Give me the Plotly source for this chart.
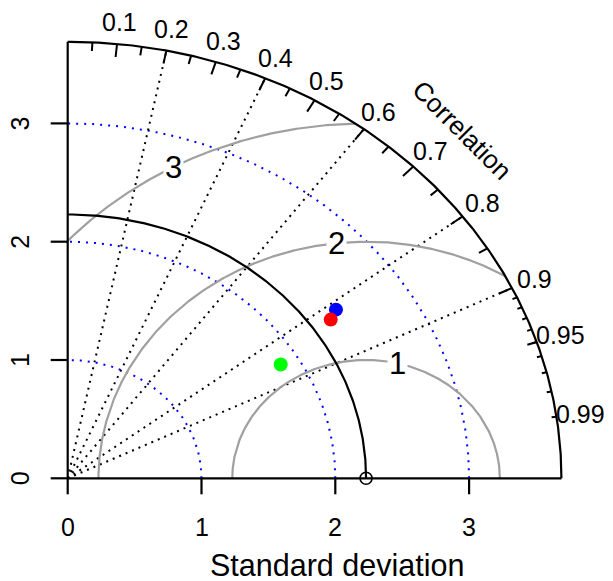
import numpy as np
import plotly.graph_objects as go

# ---------------- data ----------------
ref_sd = 2.23
model_sd = [2.46, 2.38, 1.86]
model_cor = [0.815, 0.826, 0.856]
model_colors = ["#0000ff", "#ff0000", "#00ff00"]

sd_arcs = [1, 2, 3]
rms_levels = [1, 2, 3]
rms_label_angles = [76.2, 96.3, 118.7]  # degrees around the reference point
corr_lines = [0.2, 0.4, 0.6, 0.8, 0.9]
corr_big_ticks = [0.1, 0.2, 0.3, 0.4, 0.5, 0.6, 0.7, 0.8, 0.9]
corr_med_ticks = [0.05, 0.15, 0.25, 0.35, 0.45, 0.55, 0.65, 0.75, 0.85, 0.95]
corr_small_ticks = [0.91, 0.92, 0.93, 0.94, 0.95, 0.96, 0.97, 0.98, 0.99]
corr_labels = ["0.1", "0.2", "0.3", "0.4", "0.5", "0.6", "0.7", "0.8", "0.9", "0.95", "0.99"]
sd_ticks = [0, 1, 2, 3]
sd_tick_labels = ["0", "1", "2", "3"]

maxsd = 1.5 * max(model_sd)

# pixel mapping (origin at 67.7, 478.3; 133.8 px/unit in x, 118.3 px/unit in y)
W, H = 613, 581
ox, oy, sx, sy = 67.7, 478.3, 133.8, 118.3
xr = [-ox / sx, (W - ox) / sx]
yr = [(oy - H) / sy, oy / sy]

FONT = "Liberation Sans, Arial, Helvetica, sans-serif"
fig = go.Figure()


def add_line(x, y, color="black", width=2, dash=None):
    fig.add_trace(go.Scatter(x=x, y=y, mode="lines", hoverinfo="skip", showlegend=False,
                             line=dict(color=color, width=width, dash=dash)))


# sd arcs (blue dotted)
th = np.linspace(0, np.pi / 2, 300)
for r in sd_arcs:
    add_line(r * np.cos(th), r * np.sin(th), color="#0000ff", width=2, dash="2px,6px")

# correlation lines (black dotted)
for c in corr_lines:
    a = np.arccos(c)
    add_line([0, maxsd * np.cos(a)], [0, maxsd * np.sin(a)], color="black", width=2, dash="2px,5px")

# RMS arcs centred on reference
for g in rms_levels:
    t = np.linspace(0, np.pi, 2000)
    gx = ref_sd + g * np.cos(t)
    gy = g * np.sin(t)
    ok = (np.hypot(gx, gy) <= maxsd) & (gx >= 0)
    add_line(np.where(ok, gx, np.nan), np.where(ok, gy, np.nan), color="#a0a0a0", width=2.2)

# reference sd arc
add_line(ref_sd * np.cos(th), ref_sd * np.sin(th), color="black", width=2.2)

# outer arc
add_line(maxsd * np.cos(th), maxsd * np.sin(th), color="black", width=2.2)

# axes lines
add_line([0, maxsd], [0, 0], color="black", width=2.2)
add_line([0, 0], [0, maxsd], color="black", width=2.2)

# axis ticks
tlx = 16 / sy
tly = 17 / sx
for v in sd_ticks:
    add_line([v, v], [0, -tlx], color="black", width=2.2)
    add_line([0, -tly], [v, v], color="black", width=2.2)


# correlation tick marks
def ticks(vals, inner):
    xs, ys = [], []
    for c in vals:
        a = np.arccos(c)
        xs += [maxsd * np.cos(a), inner * maxsd * np.cos(a), None]
        ys += [maxsd * np.sin(a), inner * maxsd * np.sin(a), None]
    add_line(xs, ys, color="black", width=2)


ticks(corr_big_ticks, 0.97)
ticks(corr_med_ticks, 0.98)
ticks(corr_small_ticks, 0.99)

# model points
for s, c, col in zip(model_sd, model_cor, model_colors):
    a = np.arccos(c)
    fig.add_trace(go.Scatter(x=[s * np.cos(a)], y=[s * np.sin(a)], mode="markers",
                             hoverinfo="skip", showlegend=False,
                             marker=dict(color=col, size=14, line=dict(width=0))))

# reference point
fig.add_trace(go.Scatter(x=[ref_sd], y=[0], mode="markers", hoverinfo="skip", showlegend=False,
                         cliponaxis=False,
                         marker=dict(symbol="circle-open", color="black", size=12, line=dict(width=1.6))))

ann = []
# correlation labels
lab_vals = [float(v) for v in corr_labels]
for v, t in zip(lab_vals, corr_labels):
    a = np.arccos(v)
    ann.append(dict(x=1.05 * maxsd * np.cos(a), y=1.05 * maxsd * np.sin(a), text=t,
                    font=dict(size=25, color="black", family=FONT)))
ann.append(dict(x=1.13 * maxsd * np.cos(np.pi / 4), y=1.13 * maxsd * np.sin(np.pi / 4),
                text="Correlation", textangle=45, font=dict(size=26, color="black", family=FONT)))
# rms labels
for g, ang in zip(rms_levels, rms_label_angles):
    a = np.radians(ang)
    ann.append(dict(x=ref_sd + g * np.cos(a), y=g * np.sin(a), text=str(g), bgcolor="white",
                    borderpad=1, font=dict(size=31, color="black", family=FONT)))
# axis tick labels
for v, t in zip(sd_ticks, sd_tick_labels):
    ann.append(dict(x=v, y=(oy - 527) / sy, text=t, font=dict(size=25, color="black", family=FONT)))
    ann.append(dict(x=(20 - ox) / sx, y=v, text=t, textangle=-90,
                    font=dict(size=25, color="black", family=FONT)))
# axis title
ann.append(dict(x=(337 - ox) / sx, y=(oy - 565) / sy, text="Standard deviation",
                font=dict(size=30.5, color="black", family=FONT)))

for a in ann:
    a.update(xref="x", yref="y", showarrow=False, xanchor="center", yanchor="middle")

fig.update_layout(
    width=W, height=H, autosize=False,
    margin=dict(l=0, r=0, t=0, b=0, pad=0),
    paper_bgcolor="white", plot_bgcolor="white",
    xaxis=dict(range=xr, visible=False, fixedrange=True),
    yaxis=dict(range=yr, visible=False, fixedrange=True),
    annotations=ann,
    showlegend=False,
)

fig.write_html("out.html", config={"displayModeBar": False},
               post_script="document.body.style.margin='0';document.body.style.overflow='hidden';")
